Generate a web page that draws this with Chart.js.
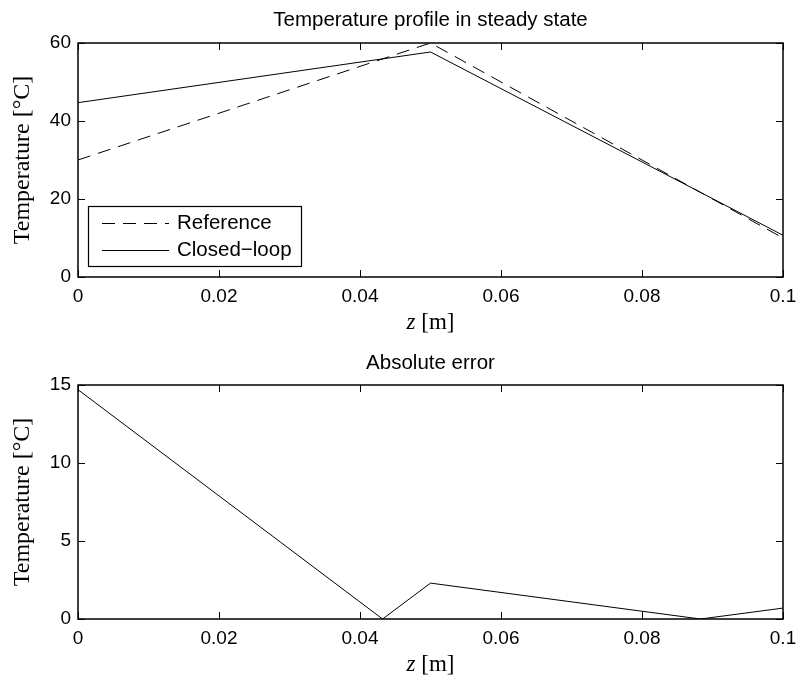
<!DOCTYPE html>
<html>
<head>
<meta charset="utf-8">
<script src="https://cdn.jsdelivr.net/npm/chart.js@4.4.1/dist/chart.umd.min.js"></script>
<style>
  html, body { margin: 0; padding: 0; background: #fff; }
  #wrap { position: relative; width: 798px; height: 681px; }
  canvas { position: absolute; left: 0; }
</style>
</head>
<body>
<div id="wrap">
  <canvas id="profile" width="798" height="340" style="top:0"></canvas>
  <canvas id="error" width="798" height="341" style="top:340px"></canvas>
</div>
<script>
// data
const zReference = [0, 0.05, 0.1];
const tReference = [30, 60, 10];
const zClosed = [0, 0.05, 0.1];
const tClosed = [44.7, 57.7, 10.7];
const zError = [0, 0.0432, 0.05, 0.0883, 0.1];
const tError = [14.7, 0, 2.3, 0, 0.7];

const xTicks = [0, 0.02, 0.04, 0.06, 0.08, 0.1];
const xTickLabels = ['0', '0.02', '0.04', '0.06', '0.08', '0.1'];
const yTicksTop = [0, 20, 40, 60];
const yTicksBottom = [0, 5, 10, 15];

const SANS = 'Liberation Sans, Arial, sans-serif';
const SERIF = 'Liberation Serif, Times New Roman, serif';

const toPoints = (xs, ys) => xs.map((x, i) => ({ x: x, y: ys[i] }));

// box with inward ticks on all four sides, MATLAB style, plus titles
const frame = {
  id: 'frame',
  afterDatasetsDraw(chart, args, opts) {
    const { ctx, chartArea: a, scales: { x, y } } = chart;
    const len = 7;
    ctx.save();
    ctx.strokeStyle = '#000';
    ctx.lineWidth = 1;
    ctx.beginPath();
    x.ticks.forEach(t => {
      const px = Math.round(x.getPixelForValue(t.value)) + 0.5;
      ctx.moveTo(px, a.bottom); ctx.lineTo(px, a.bottom - len);
      ctx.moveTo(px, a.top); ctx.lineTo(px, a.top + len);
    });
    y.ticks.forEach(t => {
      const py = Math.round(y.getPixelForValue(t.value)) + 0.5;
      ctx.moveTo(a.left, py); ctx.lineTo(a.left + len, py);
      ctx.moveTo(a.right, py); ctx.lineTo(a.right - len, py);
    });
    ctx.stroke();
    ctx.lineWidth = 1.5;
    ctx.strokeRect(Math.round(a.left), Math.round(a.top), Math.round(a.width), Math.round(a.height));

    const cx = (a.left + a.right) / 2;
    ctx.fillStyle = '#000';
    ctx.textBaseline = 'middle';

    // title centred over the axes
    ctx.textAlign = 'center';
    ctx.font = '20.5px ' + SANS;
    ctx.fillText(opts.title, cx, opts.titleY);

    // x label: italic z, upright [m]
    ctx.textAlign = 'left';
    const cy = a.bottom + 46;
    ctx.font = 'italic 23px ' + SERIF;
    const wz = ctx.measureText('z').width;
    ctx.font = '23px ' + SERIF;
    const wm = ctx.measureText(' [m]').width;
    const x0 = cx - (wz + wm) / 2;
    ctx.font = 'italic 23px ' + SERIF;
    ctx.fillText('z', x0, cy);
    ctx.font = '23px ' + SERIF;
    ctx.fillText(' [m]', x0 + wz, cy);
    ctx.restore();
  }
};

// legend boxed in the lower-left corner of the plot
const boxLegend = {
  id: 'boxLegend',
  afterDraw(chart, args, opts) {
    if (!opts.show) return;
    const { ctx, chartArea: a } = chart;
    const left = a.left + 10, w = 213, h = 60;
    const top = a.bottom - 11 - h;
    ctx.save();
    ctx.fillStyle = '#fff';
    ctx.fillRect(left, top, w, h);
    ctx.strokeStyle = '#000';
    ctx.lineWidth = 1.2;
    ctx.strokeRect(left + 0.5, top + 0.5, w, h);
    ctx.font = '20.5px ' + SANS;
    ctx.textBaseline = 'middle';
    chart.data.datasets.forEach((ds, i) => {
      const yy = top + 17 + i * 27;
      ctx.setLineDash(ds.borderDash || []);
      ctx.lineWidth = 1;
      ctx.beginPath();
      ctx.moveTo(left + 14, yy + 0.5);
      ctx.lineTo(left + 81, yy + 0.5);
      ctx.stroke();
      ctx.setLineDash([]);
      ctx.fillStyle = '#000';
      ctx.fillText(ds.label, left + 89, yy);
    });
    ctx.restore();
  }
};

function makeOptions(title, titleY, ymax, yTicks, topPad, xHeight, showLegend) {
  return {
    responsive: false,
    animation: false,
    layout: { padding: { left: 0, right: 15, top: topPad, bottom: 0 } },
    plugins: {
      legend: { display: false },
      tooltip: { enabled: false },
      title: { display: false },
      frame: { title: title, titleY: titleY },
      boxLegend: { show: showLegend }
    },
    scales: {
      x: {
        type: 'linear',
        min: 0,
        max: 0.1,
        grid: { display: false, drawTicks: false },
        border: { display: false },
        afterBuildTicks: s => { s.ticks = xTicks.map(v => ({ value: v })); },
        afterFit: s => { s.height = xHeight; s.paddingLeft = 0; s.paddingRight = 0; },
        ticks: {
          color: '#000',
          padding: 8,
          font: { family: SANS, size: 19 },
          callback: v => xTickLabels[xTicks.indexOf(v)]
        }
      },
      y: {
        min: 0,
        max: ymax,
        grid: { display: false, drawTicks: false },
        border: { display: false },
        afterBuildTicks: s => { s.ticks = yTicks.map(v => ({ value: v })); },
        afterFit: s => { s.width = 78; s.paddingTop = 0; s.paddingBottom = 0; },
        ticks: {
          color: '#000',
          padding: 7,
          font: { family: SANS, size: 19 },
          callback: v => String(v)
        },
        title: {
          display: true,
          text: 'Temperature [°C]',
          color: '#000',
          font: { family: SERIF, size: 24 },
          padding: { top: 8, bottom: 0 }
        }
      }
    }
  };
}

new Chart(document.getElementById('profile'), {
  type: 'line',
  data: {
    datasets: [
      {
        label: 'Reference',
        data: toPoints(zReference, tReference),
        borderColor: '#000',
        borderWidth: 1,
        borderDash: [13, 8],
        pointRadius: 0,
        fill: false
      },
      {
        label: 'Closed\u2212loop',
        data: toPoints(zClosed, tClosed),
        borderColor: '#000',
        borderWidth: 1,
        pointRadius: 0,
        fill: false
      }
    ]
  },
  options: makeOptions('Temperature profile in steady state', 20, 60, yTicksTop, 43, 63, true),
  plugins: [frame, boxLegend]
});

new Chart(document.getElementById('error'), {
  type: 'line',
  data: {
    datasets: [
      {
        label: 'Absolute error',
        data: toPoints(zError, tError),
        borderColor: '#000',
        borderWidth: 1,
        pointRadius: 0,
        fill: false
      }
    ]
  },
  options: makeOptions('Absolute error', 23, 15, yTicksBottom, 45, 62, false),
  plugins: [frame, boxLegend]
});
</script>
</body>
</html>
